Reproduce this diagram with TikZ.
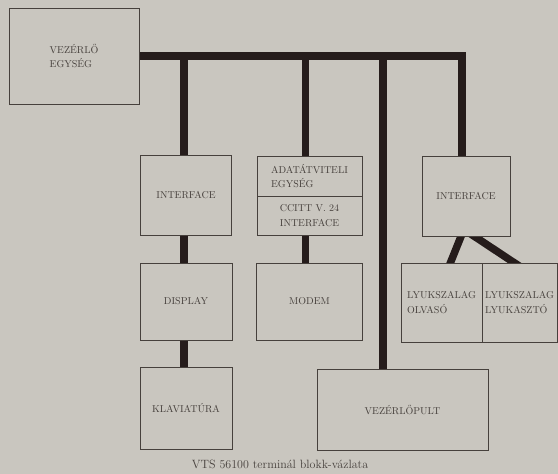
\documentclass[tikz,border=0pt]{standalone}
\usepackage{tikz}
\usepackage{xcolor}
\usetikzlibrary{backgrounds}
\definecolor{paper}{HTML}{C9C6BF}
\definecolor{ink}{HTML}{46403C}
\definecolor{busink}{HTML}{251C1B}

\begin{document}
\begin{tikzpicture}[
		x=1pt, y=-1pt,
		block/.style = {draw=ink, rectangle, line width=0.9pt, fill=paper, text=ink, align=center, inner sep=0pt, font=\fontsize{10}{14.5}\selectfont},
		bus/.style = {draw=busink, line width=7.5pt}
		]
		\useasboundingbox (0,0) rectangle (558,474);
		
		\node [block, minimum width=130, minimum height=96, align=left] (vez) at (74,56) {VEZÉRLŐ\\EGYSÉG};
		
		\node [block, minimum width=91, minimum height=80] (ifl) at (186,195) {INTERFACE};
		\node [block, minimum width=92, minimum height=77] (disp) at (186,301.5) {DISPLAY};
		\node [block, minimum width=92, minimum height=82] (klav) at (186,408) {KLAVIATÚRA};
		
		\node [block, minimum width=105, minimum height=40, align=left] (adat) at (309.5,176) {ADATÁTVITELI\\EGYSÉG};
		\node [block, minimum width=105, minimum height=39] (ccitt) at (309.5,215.5) {CCITT V. 24\\INTERFACE};
		\node [block, minimum width=106, minimum height=77] (modem) at (309.5,301.5) {MODEM};
		
		\node [block, minimum width=171, minimum height=81] (pult) at (402.5,409.5) {VEZÉRLŐPULT};
		
		\node [block, minimum width=88, minimum height=80] (ifr) at (466,196) {INTERFACE};
		\node [block, minimum width=81, minimum height=79, align=left] (olv) at (441.5,302.5) {LYUKSZALAG\\OLVASÓ};
		\node [block, minimum width=75, minimum height=79, align=left] (lyk) at (519.5,302.5) {LYUKSZALAG\\LYUKASZTÓ};
		
		\node [text=ink, font=\fontsize{12}{14}\selectfont] (cap) at (280,464) {VTS 56100 terminál blokk-vázlata};
		
		% paper and bus lines behind the blocks
		\begin{scope}[on background layer]
			\fill [paper] (0,0) rectangle (558,474);
			\coordinate (tap) at (383,56);
			\draw [bus] (vez.east) -| ([xshift=-4]ifr.north);
			\draw [bus] ([xshift=-2]ifl.north) -- ([xshift=-2]ifl.north |- vez.east);
			\draw [bus] ([xshift=-4]adat.north) -- ([xshift=-4]adat.north |- vez.east);
			\draw [bus] (tap) -- (tap |- pult.north);
			\draw [bus] ([xshift=-2]ifl.south) -- ([xshift=-2]disp.north);
			\draw [bus] ([xshift=-2]disp.south) -- ([xshift=-2]klav.north);
			\draw [bus] ([xshift=-4]ccitt.south) -- ([xshift=-4]modem.north);
			\draw [bus] ([xshift=-3,yshift=5]ifr.south) -- ([xshift=7,yshift=-5]olv.north);
			\draw [bus] ([xshift=1,yshift=5]ifr.south) -- ([xshift=2,yshift=-5]lyk.north);
		\end{scope}
		
	\end{tikzpicture}
\end{document}
